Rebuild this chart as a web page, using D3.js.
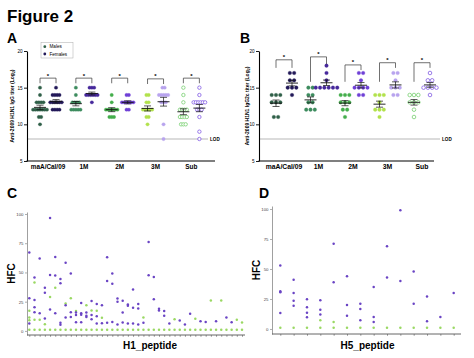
<!DOCTYPE html>
<html><head><meta charset="utf-8">
<script src="https://cdn.jsdelivr.net/npm/d3@7"></script>
<style>body{margin:0;background:#fff}svg{display:block}text{font-family:"Liberation Sans",Arial,sans-serif}</style>
</head><body><svg id="c" width="474" height="358"></svg>
<script>
// ---------- data ----------
const groups = ["maA/Cal/09", "1M", "2M", "3M", "Sub"];
const yTicksAB = [5, 10, 15, 20];
const lodValue = 8;

// Panel A: IgG titer (log2)
const aMales = [
  [15,14,13,13,13,13,12,12,12,12,12,12,12,11,11,10],
  [15,14,13,13,13,13,12,12,12,12,12],
  [14,13,12,12,12,12,12,12,11,11,11],
  [14,14,13,13,12,12,12,12,12,11,11,10],
  [15,14,13,12,12,12,12,11,11,11,11,10,10,10]
];
const aFemales = [
  [15,14,14,14,14,13,13,13,13,13,13,12,12,12,12],
  [15,15,15,14,14,14,14,14,14,13],
  [14,14,13,13,13,13,13,13,12,12],
  [15,15,14,14,14,14,14,13,13,13,10,8],
  [15,14,13,13,13,13,13,13,12,12,12,11,9,8]
];
// Panel B: IgG2c titer (log2)
const bMales = [
  [14,14,14,13,13,13,11,11],
  [15,15,14,14,13,13,12,12,12],
  [14,14,14,13,13,13,12,12,11],
  [14,14,14,13,12,12,12,11],
  [14,14,14,13,13,13,12,11]
];
const bFemales = [
  [17,17,16,16,15,15,15,14],
  [18,17,16,15,15,15,15,15,15],
  [17,17,16,15,15,15,15,14,14],
  [17,17,16,15,15,15,14,14],
  [17,16,16,15,15,15,15,14]
];
// significance brackets (log2 units): top, left leg end, right leg end
const aBrackets = [[16.3,15.6,15.6],[16.3,15.6,15.6],[16.3,15.6,15.6],[16.2,15.5,15.5],[16.3,15.6,15.6]];
const bBrackets = [[18.8,17.7,17.7],[19.2,15.8,18.2],[18.1,15.8,17.4],[18.4,15.8,17.7],[18.4,15.8,17.7]];
const maleColors = ["#2f5f48","#3d8c5e","#44ae4c","#b2e24c","#86d57f"];
const femaleColors = ["#221958","#46289b","#6f40d6","#b8a4ee","#8f6ce6"];
const openGroup = [false,false,false,false,true];

// Panel C: HFC per H1 peptide
const cPurple = [
  [67,28,6.3],[45.6,26.4,20.3,16],[62,15],[37,32.7,10.6],[96.6,47.9,18.3],
  [63.3,47.3,15.2],[44.4,40.7,6.9,5.2],[58.2,22,11.5],[49,16,12],[15.8,13.5,7.4],
  [23.8,15.2,13.8,7.4],[15.8,12.9,12],[25.6,13.5,10],[23,12.6,6.3],[22,6.6],
  [63,42.7,6.9],[49,40.4,7.7],[27.8,25,5.4],[25.8,15.8,7.2],[22.6,21.5,6.3],
  [35.5,19.8,6.3],[23,19.2,5.4],[6.9],[76,47.6],[46,27],
  [19,17.5],[17,13],[6.3],[],[8.9],
  [5.4],[14.6],[],[8.3],[7.7],
  [],[8.3],[],[11.5],[7.4],
  [],[]
];
const cGreen = [
  [1,17.2,11.5,9.2],[1,41.5,9.5],[1,9.5],[1,5.7],[1,29],
  [1,37],[1],[1,23.5],[1,28],[1,17],
  [1],[1,22],[1,17.5],[1,17.2],[1,11.2],
  [1],[1],[1],[1],[1],
  [1],[1],[1,11.5],[1],[1],
  [1],[1],[1],[1,10],[1],
  [1],[1],[1,10.3],[1],[1],
  [1,26],[1],[1,26],[1],[1],
  [1,9.5],[1,7.2]
];
// Panel D: HFC per H5 peptide
const dPurple = [
  [52.8,31.4,30.5,13.3],[41,30,23.6,19.4],[24.7,18,13.6,9.7],[24,16,12],[71,39],
  [44,20,11],[21,16.7,7.2],[35,10,5.8],[69,43],[99,40],
  [48,21],[27,6.4],[10],[30]
];
const dGreen = [
  [1],[1],[1],[1,7.2],[1,5.8],
  [1],[1],[1],[1],[1],
  [1],[1],[1],[1]
];
const hfcTicks = [0,25,50,75,100];

// ---------- drawing ----------
const svg = d3.select("#c");

function label(x, y, s, size, opts = {}) {
  const t = svg.append("text").attr("x", x).attr("y", y).text(s)
    .attr("font-size", size).attr("font-weight", opts.bold ? "bold" : "normal")
    .attr("fill", opts.fill || "#000").attr("text-anchor", opts.anchor || "start");
  if (opts.rotate) t.attr("transform", `rotate(-90,${x},${y})`);
  return t;
}

label(7, 22, "Figure 2", 17, {bold: true});
label(7, 43, "A", 14, {bold: true});
label(240, 43, "B", 14, {bold: true});
label(7, 198, "C", 14, {bold: true});
label(259, 198, "D", 14, {bold: true});

function dotPanel(cfg) {
  const y = d3.scaleLinear().domain([5, 20]).range([161, 51]);
  const x = d3.scaleBand().domain(groups).range(cfg.xRange);
  const g = svg.append("g");
  // LOD line
  g.append("line").attr("x1", cfg.axisX).attr("x2", cfg.lodEnd)
    .attr("y1", y(lodValue)).attr("y2", y(lodValue)).attr("stroke", "#9a9a9a").attr("stroke-width", 0.7);
  g.append("text").attr("x", cfg.lodEnd + 2).attr("y", y(lodValue) + 1.6).text("LOD")
    .attr("font-size", 4.6).attr("font-weight", "bold");
  // y axis
  const ya = g.append("g").attr("transform", `translate(${cfg.axisX},0)`)
    .call(d3.axisLeft(y).tickValues(yTicksAB).tickSize(3).tickSizeOuter(0).tickPadding(1.5));
  ya.select(".domain").attr("stroke", "#000").attr("stroke-width", 1.1);
  ya.selectAll(".tick line").attr("stroke", "#000").attr("stroke-width", 0.9);
  ya.selectAll(".tick text").attr("font-size", 4.6).attr("font-family", null);
  // x axis
  g.append("line").attr("x1", cfg.axisX - 0.5).attr("x2", cfg.axisEnd)
    .attr("y1", y(5)).attr("y2", y(5)).attr("stroke", "#000").attr("stroke-width", 1.1);
  const xa = g.append("g").attr("transform", `translate(0,${y(5)})`)
    .call(d3.axisBottom(x).tickSize(0).tickPadding(3));
  xa.select(".domain").remove();
  xa.selectAll(".tick text").attr("font-size", cfg.labelSize).attr("font-weight", "bold").attr("font-family", null);
  // y label
  const yl = g.append("text").attr("transform", `translate(${cfg.ylabX},${(y(5) + y(20)) / 2}) rotate(-90)`)
    .attr("text-anchor", "middle").attr("font-size", cfg.ylabSize).attr("font-weight", "bold");
  yl.append("tspan").text(cfg.yLabel);
  yl.append("tspan").text("2").attr("font-size", cfg.ylabSize * 0.7).attr("dy", 1.2);
  yl.append("tspan").text(")").attr("dy", -1.2);

  groups.forEach((grp, i) => {
    const cx = x(grp) + x.bandwidth() / 2;
    [[cfg.males[i], cx - cfg.off, cfg.maleCol[i]], [cfg.females[i], cx + cfg.off, cfg.femaleCol[i]]]
      .forEach(([vals, px, col]) => {
        const byVal = d3.group(vals, v => v);
        const pts = [];
        byVal.forEach((arr, v) => arr.forEach((_, j) => pts.push({v, dx: (j - (arr.length - 1) / 2) * cfg.dx})));
        g.selectAll(null).data(pts).join("circle")
          .attr("cx", d => px + d.dx).attr("cy", d => y(d.v)).attr("r", cfg.r)
          .attr("fill", openGroup[i] ? "#fff" : col)
          .attr("stroke", col).attr("stroke-width", openGroup[i] ? 0.9 : 0.3);
        const m = d3.mean(vals), sem = d3.deviation(vals) / Math.sqrt(vals.length);
        g.append("line").attr("x1", px - 6).attr("x2", px + 6).attr("y1", y(m)).attr("y2", y(m))
          .attr("stroke", "#111").attr("stroke-width", 0.9);
        g.append("line").attr("x1", px).attr("x2", px).attr("y1", y(m - sem)).attr("y2", y(m + sem))
          .attr("stroke", "#111").attr("stroke-width", 0.7);
        [m - sem, m + sem].forEach(e => g.append("line").attr("x1", px - 3.5).attr("x2", px + 3.5)
          .attr("y1", y(e)).attr("y2", y(e)).attr("stroke", "#111").attr("stroke-width", 0.7));
      });
    // bracket
    const [top, lEnd, rEnd] = cfg.brackets[i];
    const x1 = cx - cfg.off, x2 = cx + cfg.off;
    g.append("path").attr("d", `M${x1},${y(lEnd)}V${y(top)}H${x2}V${y(rEnd)}`)
      .attr("fill", "none").attr("stroke", "#333").attr("stroke-width", 0.7);
    g.append("text").attr("x", cx).attr("y", y(top) - 0.6).attr("text-anchor", "middle")
      .attr("font-size", 6).attr("font-weight", "bold").text("*");
  });
}

dotPanel({
  xRange: [30.1, 209.3], axisX: 27, axisEnd: 215, lodEnd: 208,
  males: aMales, females: aFemales, brackets: aBrackets,
  maleCol: maleColors, femaleCol: femaleColors,
  r: 1.7, dx: 2.3, off: 8, labelSize: 6.4, ylabX: 14, ylabSize: 5,
  yLabel: "Anti-2009 H1N1 IgG titer (Log"
});
dotPanel({
  xRange: [266.75, 439.25], axisX: 259, axisEnd: 434, lodEnd: 440,
  males: bMales, females: bFemales, brackets: bBrackets,
  maleCol: maleColors, femaleCol: femaleColors,
  r: 1.8, dx: 4.3, off: 8, labelSize: 6.8, ylabX: 249, ylabSize: 5,
  yLabel: "Anti-2009 H1N1 IgG2c titer (Log"
});

// legend (panel A)
svg.append("rect").attr("x", 41).attr("y", 42.5).attr("width", 32).attr("height", 15.5)
  .attr("fill", "none").attr("stroke", "#aaa").attr("stroke-width", 0.5);
[["Males", maleColors[0], 46.7], ["Females", femaleColors[0], 54]].forEach(([t, c, yy]) => {
  svg.append("circle").attr("cx", 44.8).attr("cy", yy).attr("r", 1.4).attr("fill", c);
  label(49.5, yy + 1.6, t, 4.6);
});

function hfcPanel(cfg) {
  const n = cfg.purple.length;
  const x = d3.scalePoint().domain(d3.range(n)).range(cfg.xRange);
  const y = d3.scaleLinear().domain(cfg.yDomain).range(cfg.yRange);
  const g = svg.append("g");
  const ya = g.append("g").attr("transform", `translate(${cfg.axisX},0)`)
    .call(d3.axisLeft(y).tickValues(hfcTicks).tickSize(2).tickSizeOuter(0).tickPadding(1.5));
  ya.select(".domain").attr("stroke", "#777").attr("stroke-width", 0.7);
  ya.selectAll(".tick line").attr("stroke", "#777").attr("stroke-width", 0.6);
  ya.selectAll(".tick text").attr("font-size", 4.3).attr("fill", "#444").attr("font-family", null);
  const xa = g.append("g").attr("transform", `translate(0,${cfg.yRange[0]})`)
    .call(d3.axisBottom(x).tickSize(1.8).tickFormat(""));
  xa.select(".domain").remove();
  xa.selectAll(".tick line").attr("stroke", "#555").attr("stroke-width", 0.6);
  g.append("line").attr("x1", cfg.axisX).attr("x2", cfg.axisEnd)
    .attr("y1", cfg.yRange[0]).attr("y2", cfg.yRange[0]).attr("stroke", "#555").attr("stroke-width", 0.9);
  const gpts = cfg.green.flatMap((arr, i) => arr.map(v => ({i, v})));
  const ppts = cfg.purple.flatMap((arr, i) => arr.map(v => ({i, v})));
  g.selectAll(null).data(gpts).join("circle").attr("cx", d => x(d.i)).attr("cy", d => y(d.v))
    .attr("r", 1.25).attr("fill", "#9ad863");
  g.selectAll(null).data(ppts).join("circle").attr("cx", d => x(d.i)).attr("cy", d => y(d.v))
    .attr("r", 1.25).attr("fill", "#6a44c4");
  label(cfg.titleX, cfg.titleY, cfg.title, 10, {bold: true, anchor: "middle"});
  label(cfg.hfcX, (cfg.yRange[0] + cfg.yRange[1]) / 2, "HFC", 10, {bold: true, anchor: "middle", rotate: true});
}

hfcPanel({
  purple: cPurple, green: cGreen, xRange: [29.3, 242],
  yDomain: [-3.5, 101.7], yRange: [335, 212], axisX: 27, axisEnd: 245,
  title: "H1_peptide", titleX: 150, titleY: 348.5, hfcX: 15
});
hfcPanel({
  purple: dPurple, green: dGreen, xRange: [280.3, 453.7],
  yDomain: [-4.2, 102.5], yRange: [334, 206], axisX: 272, axisEnd: 461,
  title: "H5_peptide", titleX: 367.5, titleY: 348.5, hfcX: 260
});
</script></body></html>
